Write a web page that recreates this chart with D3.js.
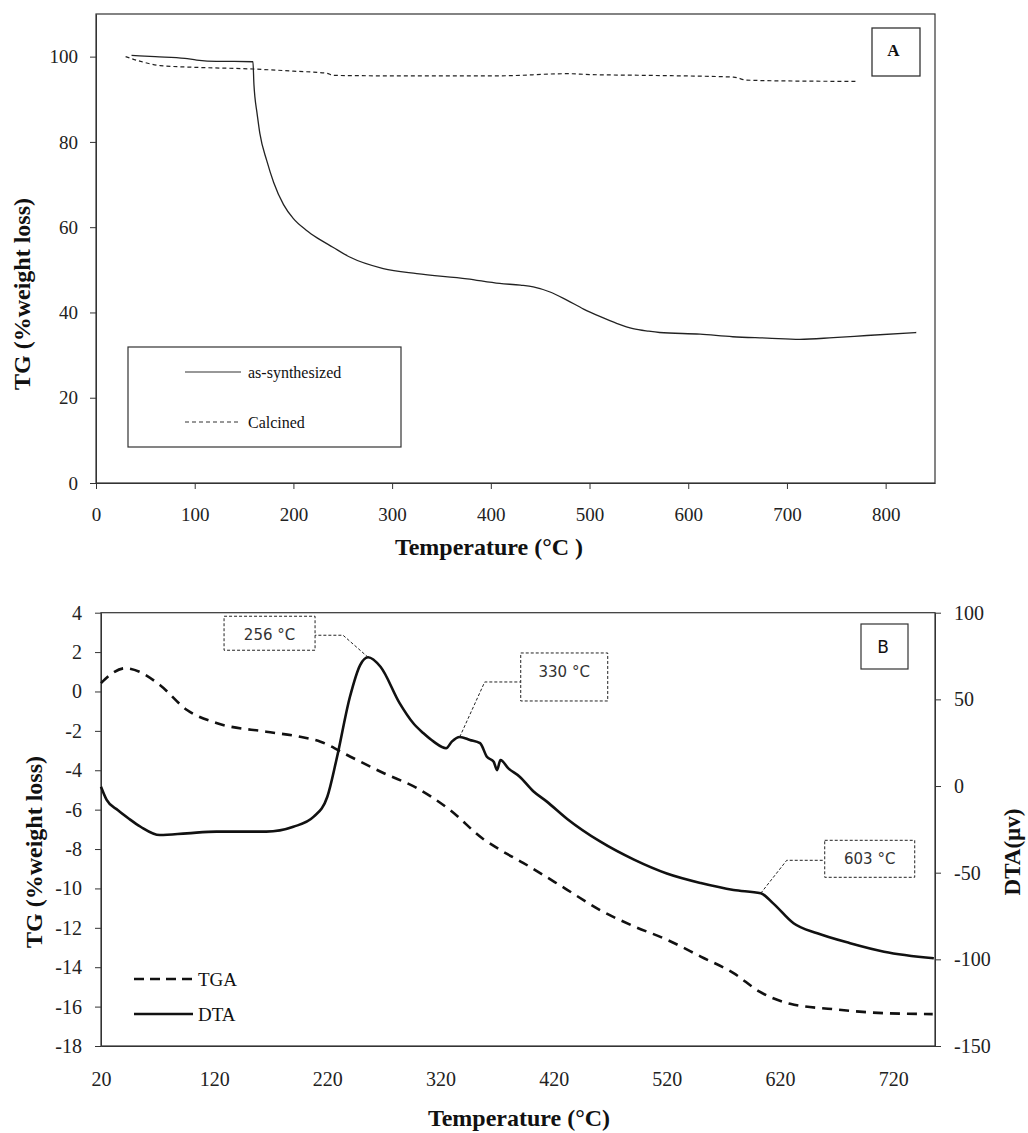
<!DOCTYPE html>
<html>
  <head>
    <script src="https://d3js.org/d3.v7.min.js"></script>
    <style>
      body {margin:0; background:white;}
      text {fill:#111;}
    </style>
  </head>
  <body>
    <div id="chart"></div>
    <script>
      // ---- panel A : TG curves ----
      var asSynthT = [36, 60, 90, 102, 122, 140, 159, 160, 161, 163, 166, 173, 180, 190, 200, 213, 224, 240, 257, 291, 325, 376, 409, 430, 443, 460, 477, 494, 511, 528, 544, 560, 571, 612, 645, 680, 713, 747, 781, 831];
      var asSynthV = [100.3, 100.0, 99.6, 99.2, 98.9, 98.9, 98.8, 93.5, 90.5, 87, 82, 75.6, 70.5, 65.3, 62.0, 59.3, 57.5, 55.3, 53.0, 50.3, 49.1, 47.9, 46.8, 46.4, 46.0, 44.8, 42.9, 40.8, 39.0, 37.4, 36.2, 35.6, 35.3, 34.9, 34.3, 34.0, 33.7, 34.1, 34.6, 35.3];
      var calcinedT = [30, 45, 65, 100, 159, 200, 234, 240, 300, 409, 477, 500, 560, 646, 659, 700, 770];
      var calcinedV = [100.0, 98.9, 97.9, 97.5, 97.1, 96.6, 96.1, 95.6, 95.5, 95.5, 96.0, 95.8, 95.6, 95.2, 94.5, 94.3, 94.2];
      var ticksAX = [0, 100, 200, 300, 400, 500, 600, 700, 800];
      var ticksAY = [0, 20, 40, 60, 80, 100];
      var legendA = ["as-synthesized", "Calcined"];

      // ---- panel B : TGA / DTA ----
      var tgaT = [20, 28, 41, 54, 72, 96, 122, 166, 196, 214, 240, 270, 299, 328, 358, 373, 393, 432, 461, 490, 520, 550, 579, 602, 629, 667, 711, 755];
      var tgaV = [0.42, 0.84, 1.18, 1.0, 0.33, -0.94, -1.6, -2.04, -2.3, -2.55, -3.3, -4.15, -4.9, -6.0, -7.5, -8.05, -8.7, -10.07, -11.1, -11.9, -12.6, -13.46, -14.3, -15.24, -15.86, -16.13, -16.33, -16.38];
      var dtaT = [20, 25, 35, 45, 55, 72, 96, 122, 166, 190, 208, 220, 228, 240, 249, 256, 267, 284, 296, 305, 314, 325, 330, 337, 346, 355, 361, 367, 370, 373, 380, 390, 402, 414, 432, 461, 491, 520, 550, 579, 603, 614, 632, 653, 682, 712, 756];
      var dtaV = [-0.4, -8, -14, -19, -23.5, -28.3, -27.3, -26.3, -26.3, -23.5, -17.7, -6.2, 15, 51.5, 69.8, 74.3, 68.8, 47.7, 36.2, 30.4, 25.6, 21.8, 25.6, 28.3, 26.6, 24.7, 16.9, 14, 9.2, 15, 10.2, 5.4, -3, -9, -19, -32, -42.5, -50.5, -56, -60, -61.9, -67.7, -79.2, -85, -90.7, -95.6, -99.4];
      var ticksBX = [20, 120, 220, 320, 420, 520, 620, 720];
      var ticksBL = [-18, -16, -14, -12, -10, -8, -6, -4, -2, 0, 2, 4];
      var ticksBR = [-150, -100, -50, 0, 50, 100];
      var legendB = ["TGA", "DTA"];
      var annoLabels = ["256 °C", "330 °C", "603 °C"];
      var annoAt = [256, 337, 603];

      var serif = "Liberation Serif, Times New Roman, serif";
      var sans = "DejaVu Sans, sans-serif";

      var svg = d3.select("#chart").append("svg")
        .attr("width", 1028)
        .attr("height", 1133)
        .attr("style", "background-color: white;");

      function zip(ts, vs){ return ts.map(function(t, i){ return {t: t, v: vs[i]}; }); }

      function styleAxis(g, size){
        g.selectAll("path.domain").attr("stroke", "#333");
        g.selectAll(".tick line").attr("stroke", "#333");
        g.selectAll(".tick text")
          .style("font-family", serif)
          .style("font-size", size + "px")
          .style("fill", "#222");
      }

      // ===== Panel A =====
      var xA = d3.scaleLinear().domain([0, 850]).range([96, 935]);
      var yA = d3.scaleLinear().domain([0, 110]).range([483, 14]);

      var gA = svg.append("g");
      gA.append("rect")
        .attr("x", xA(0)).attr("y", yA(110))
        .attr("width", xA(850) - xA(0)).attr("height", yA(0) - yA(110))
        .attr("fill", "none").attr("stroke", "#333").attr("stroke-width", 1.2);

      var axA = gA.append("g")
        .attr("transform", "translate(0," + yA(0) + ")")
        .call(d3.axisBottom(xA).tickValues(ticksAX).tickSize(6).tickSizeOuter(0).tickPadding(19).tickFormat(String));
      styleAxis(axA, 19);
      var ayA = gA.append("g")
        .attr("transform", "translate(" + xA(0) + ",0)")
        .call(d3.axisLeft(yA).tickValues(ticksAY).tickSize(6).tickSizeOuter(0).tickPadding(12).tickFormat(String));
      styleAxis(ayA, 19);

      var lineA = d3.line()
        .x(function(d){ return xA(d.t); })
        .y(function(d){ return yA(d.v); })
        .curve(d3.curveMonotoneX);

      gA.append("path")
        .datum(zip(asSynthT, asSynthV))
        .attr("d", lineA)
        .attr("fill", "none").attr("stroke", "#222").attr("stroke-width", 1.3);
      gA.append("path")
        .datum(zip(calcinedT, calcinedV))
        .attr("d", lineA)
        .attr("fill", "none").attr("stroke", "#222").attr("stroke-width", 1.2)
        .attr("stroke-dasharray", "4,3");

      // legend A
      gA.append("rect")
        .attr("x", 128).attr("y", 347).attr("width", 273).attr("height", 100)
        .attr("fill", "white").attr("stroke", "#333").attr("stroke-width", 1.2);
      legendA.forEach(function(name, i){
        var ly = 372 + i * 50;
        gA.append("line")
          .attr("x1", 185).attr("x2", 241).attr("y1", ly).attr("y2", ly)
          .attr("stroke", "#333").attr("stroke-width", 1.2)
          .attr("stroke-dasharray", i == 1 ? "4,3" : null);
        gA.append("text")
          .attr("x", 248).attr("y", ly + 5.5)
          .style("font-family", serif).style("font-size", "16px")
          .text(name);
      });

      // panel tag A
      gA.append("rect")
        .attr("x", 872).attr("y", 28).attr("width", 48).attr("height", 48)
        .attr("fill", "white").attr("stroke", "#333").attr("stroke-width", 1.3);
      gA.append("text")
        .attr("x", 893.5).attr("y", 56)
        .attr("text-anchor", "middle")
        .style("font-family", serif).style("font-size", "17px").style("font-weight", "bold")
        .text("A");

      gA.append("text")
        .attr("x", 489).attr("y", 555)
        .attr("text-anchor", "middle")
        .style("font-family", serif).style("font-size", "24px").style("font-weight", "bold")
        .text("Temperature (°C )");
      gA.append("text")
        .attr("transform", "translate(30,294) rotate(-90)")
        .attr("text-anchor", "middle")
        .style("font-family", serif).style("font-size", "24px").style("font-weight", "bold")
        .text("TG (%weight loss)");

      // ===== Panel B =====
      var xB = d3.scaleLinear().domain([20, 757]).range([101, 935]);
      var yBL = d3.scaleLinear().domain([-18, 4]).range([1046, 612.7]);
      var yBR = d3.scaleLinear().domain([-150, 100]).range([1046, 612.7]);

      var gB = svg.append("g");
      gB.append("rect")
        .attr("x", xB(20)).attr("y", yBL(4))
        .attr("width", xB(757) - xB(20)).attr("height", yBL(-18) - yBL(4))
        .attr("fill", "none").attr("stroke", "#333").attr("stroke-width", 1.2);

      var axB = gB.append("g")
        .attr("transform", "translate(0," + yBL(-18) + ")")
        .call(d3.axisBottom(xB).tickValues(ticksBX).tickSize(0).tickPadding(26).tickFormat(String));
      styleAxis(axB, 20);
      var ayBL = gB.append("g")
        .attr("transform", "translate(" + xB(20) + ",0)")
        .call(d3.axisLeft(yBL).tickValues(ticksBL).tickSize(6).tickSizeOuter(0).tickPadding(13).tickFormat(String));
      styleAxis(ayBL, 20);
      var ayBR = gB.append("g")
        .attr("transform", "translate(" + xB(757) + ",0)")
        .call(d3.axisRight(yBR).tickValues(ticksBR).tickSize(6).tickSizeOuter(0).tickPadding(13).tickFormat(String));
      styleAxis(ayBR, 20);

      var tgaLine = d3.line()
        .x(function(d){ return xB(d.t); })
        .y(function(d){ return yBL(d.v); })
        .curve(d3.curveMonotoneX);
      var dtaLine = d3.line()
        .x(function(d){ return xB(d.t); })
        .y(function(d){ return yBR(d.v); })
        .curve(d3.curveMonotoneX);

      gB.append("path")
        .datum(zip(tgaT, tgaV))
        .attr("d", tgaLine)
        .attr("fill", "none").attr("stroke", "#111").attr("stroke-width", 2.6)
        .attr("stroke-dasharray", "10,7");
      var dtaData = zip(dtaT, dtaV);
      gB.append("path")
        .datum(dtaData)
        .attr("d", dtaLine)
        .attr("fill", "none").attr("stroke", "#111").attr("stroke-width", 2.6);

      // callouts: elbow offset from the curve point, then box beside the elbow
      var annoLayout = [
        {ex: -25, ey: -22, gap: -28, bw: 91, bh: 34, bt: -19},
        {ex: 25, ey: -55, gap: 36, bw: 87, bh: 48, bt: -29},
        {ex: 26, ey: -33, gap: 38, bw: 90, bh: 37, bt: -20}
      ];
      annoAt.forEach(function(t, i){
        var p = dtaData.filter(function(d){ return d.t == t; })[0];
        var px = xB(p.t), py = yBR(p.v);
        var L = annoLayout[i];
        var ex = px + L.ex, ey = py + L.ey;
        var edge = ex + L.gap;
        var bx = L.gap < 0 ? edge - L.bw : edge;
        var by = ey + L.bt;
        gB.append("path")
          .attr("d", "M" + px + "," + py + "L" + ex + "," + ey + "L" + edge + "," + ey)
          .attr("fill", "none").attr("stroke", "#222").attr("stroke-width", 1)
          .attr("stroke-dasharray", "3,2");
        gB.append("rect")
          .attr("x", bx).attr("y", by).attr("width", L.bw).attr("height", L.bh)
          .attr("fill", "white").attr("stroke", "#222").attr("stroke-width", 1)
          .attr("stroke-dasharray", "3,2");
        gB.append("text")
          .attr("x", bx + L.bw / 2).attr("y", by + 24)
          .attr("text-anchor", "middle")
          .style("font-family", sans).style("font-size", "15px")
          .style("fill", "#333")
          .text(annoLabels[i]);
      });

      // legend B
      legendB.forEach(function(name, i){
        var ly = 979 + i * 35;
        gB.append("line")
          .attr("x1", 134).attr("x2", 193).attr("y1", ly).attr("y2", ly)
          .attr("stroke", "#111").attr("stroke-width", 2.6)
          .attr("stroke-dasharray", i == 0 ? "10,6" : null);
        gB.append("text")
          .attr("x", 198).attr("y", ly + 7)
          .style("font-family", serif).style("font-size", "19px")
          .text(name);
      });

      // panel tag B
      gB.append("rect")
        .attr("x", 861).attr("y", 624).attr("width", 47).attr("height", 45)
        .attr("fill", "white").attr("stroke", "#333").attr("stroke-width", 1.2);
      gB.append("text")
        .attr("x", 883).attr("y", 653)
        .attr("text-anchor", "middle")
        .style("font-family", sans).style("font-size", "17px")
        .text("B");

      gB.append("text")
        .attr("x", 519).attr("y", 1126)
        .attr("text-anchor", "middle")
        .style("font-family", serif).style("font-size", "24px").style("font-weight", "bold")
        .text("Temperature (°C)");
      gB.append("text")
        .attr("transform", "translate(42,852) rotate(-90)")
        .attr("text-anchor", "middle")
        .style("font-family", serif).style("font-size", "24px").style("font-weight", "bold")
        .text("TG (%weight loss)");
      gB.append("text")
        .attr("transform", "translate(1020,852) rotate(-90)")
        .attr("text-anchor", "middle")
        .style("font-family", serif).style("font-size", "23px").style("font-weight", "bold")
        .text("DTA(µv)");
    </script>
  </body>
</html>
